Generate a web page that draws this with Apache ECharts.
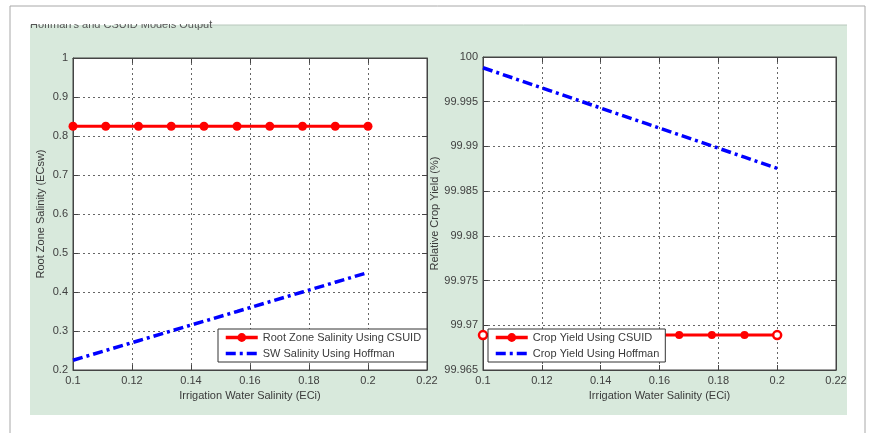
<!DOCTYPE html>
<html>
<head>
<meta charset="utf-8">
<script src="https://cdn.jsdelivr.net/npm/echarts@6/dist/echarts.min.js"></script>
<style>
html, body { margin: 0; background: #fff; }
#c { width: 869px; height: 433px; }
</style>
</head>
<body>
<div id="c"></div>
<script>
// irrigation water salinity (ECi), shared by both plots
var xValues = [0.1, 0.1111, 0.1222, 0.1333, 0.1444, 0.1556, 0.1667, 0.1778, 0.1889, 0.2];
// left plot
var rootZoneCsuid = [0.825, 0.825, 0.825, 0.825, 0.825, 0.825, 0.825, 0.825, 0.825, 0.825];
var swHoffman = [0.225, 0.25, 0.275, 0.3, 0.325, 0.35, 0.375, 0.4, 0.425, 0.45];
// right plot
var yieldCsuid = [99.9689, 99.9689, 99.9689, 99.9689, 99.9689, 99.9689, 99.9689, 99.9689, 99.9689, 99.9689];
var yieldHoffman = [99.9988, 99.99755, 99.9963, 99.99505, 99.9938, 99.99255, 99.9913, 99.99005, 99.9888, 99.98755];
// tick labels
var xTicks = [0.1, 0.12, 0.14, 0.16, 0.18, 0.2, 0.22];
var leftTicks = [0.2, 0.3, 0.4, 0.5, 0.6, 0.7, 0.8, 0.9, 1];
var rightTicks = [99.965, 99.97, 99.975, 99.98, 99.985, 99.99, 99.995, 100];

var chart = echarts.init(document.getElementById('c'));
var font = 'Liberation Sans, Arial, sans-serif';
var dashDot = [10, 4, 3, 4];

function pairs(ys) {
    return xValues.map(function (x, i) { return [x, ys[i]]; });
}
// first and last markers of the right red line look hollow in the original
function hollowEnds(ys) {
    return pairs(ys).map(function (p, i) {
        if (i === 0 || i === ys.length - 1) {
            return { value: p, itemStyle: { color: '#fff', borderColor: '#ff0000', borderWidth: 2.5 } };
        }
        return p;
    });
}
function fmt(d) {
    return function (v) { return String(+(+v).toFixed(d)); };
}

function xAxisFor(grid, top) {
    return {
        type: 'value', gridIndex: grid, position: top ? 'top' : 'bottom',
        min: xTicks[0], max: xTicks[xTicks.length - 1], interval: 0.02,
        name: top ? '' : 'Irrigation Water Salinity (ECi)',
        nameLocation: 'middle', nameGap: 19,
        nameTextStyle: { color: '#3a3a3a', fontSize: 11, fontFamily: font },
        axisLine: { show: true, lineStyle: { color: '#444' } },
        axisTick: { show: true, inside: true, length: 5, lineStyle: { color: '#444' } },
        axisLabel: { show: !top, color: '#404040', fontSize: 11, fontFamily: font, margin: 5, formatter: fmt(2) },
        splitLine: { show: !top, lineStyle: { color: '#666', type: [2, 3], width: 1 } }
    };
}
function yAxisFor(grid, ticks, step, dec, name, gap, right) {
    return {
        type: 'value', gridIndex: grid, position: right ? 'right' : 'left',
        min: ticks[0], max: ticks[ticks.length - 1], interval: step,
        name: right ? '' : name,
        nameLocation: 'middle', nameGap: gap,
        nameTextStyle: { color: '#3a3a3a', fontSize: 11, fontFamily: font },
        axisLine: { show: true, lineStyle: { color: '#444' } },
        axisTick: { show: true, inside: true, length: 5, lineStyle: { color: '#444' } },
        axisLabel: { show: !right, color: '#404040', fontSize: 11, fontFamily: font, margin: 5, formatter: fmt(dec) },
        splitLine: { show: !right, lineStyle: { color: '#666', type: [2, 3], width: 1 } }
    };
}

var redLine = { color: '#ff0000', width: 3 };
var blueLine = { color: '#0000ff', width: 3.5, type: dashDot };

function legendFor(left, redName, blueName) {
    return {
        left: left, top: 329, orient: 'vertical',
        data: [
            { name: redName, lineStyle: { width: 3.5, color: '#ff0000' } },
            { name: blueName, itemStyle: { opacity: 0 }, lineStyle: { type: dashDot, width: 3.5, color: '#0000ff' } }
        ],
        backgroundColor: '#fff', borderColor: '#333', borderWidth: 1,
        padding: [3, 6, 3, 6], itemGap: 5, itemWidth: 32, itemHeight: 11,
        textStyle: { color: '#3a3a3a', fontSize: 11, fontFamily: font },
        selectedMode: false
    };
}

var option = {
    backgroundColor: '#fff',
    animation: false,
    graphic: [
        { type: 'rect', z: -10, shape: { x: 10, y: 6, width: 855, height: 440 },
          style: { fill: '#fff', stroke: '#a8a8a8', lineWidth: 1 } },
        { type: 'rect', z: -9, shape: { x: 30, y: 25, width: 817, height: 390 },
          style: { fill: '#d8e9dc' } },
        { type: 'line', z: -8, shape: { x1: 200, y1: 25, x2: 847, y2: 25 },
          style: { stroke: '#b8c8bc', lineWidth: 1 } },
        { type: 'text', z: -7, x: 30, y: 25,
          style: { text: "Hoffman's and CSUID Models Output", fill: '#555', font: '11px ' + font, textVerticalAlign: 'middle' } },
        { type: 'rect', z: -6, shape: { x: 29, y: 7, width: 180, height: 17 },
          style: { fill: '#fff' } }
    ],
    grid: [
        { left: 73, top: 58, width: 354, height: 312, show: true, backgroundColor: '#fff', borderColor: '#444', borderWidth: 1 },
        { left: 483, top: 57, width: 353, height: 313, show: true, backgroundColor: '#fff', borderColor: '#444', borderWidth: 1 }
    ],
    xAxis: [xAxisFor(0, false), xAxisFor(1, false), xAxisFor(0, true), xAxisFor(1, true)],
    yAxis: [
        yAxisFor(0, leftTicks, 0.1, 1, 'Root Zone Salinity (ECsw)', 27, false),
        yAxisFor(1, rightTicks, 0.005, 3, 'Relative Crop Yield (%)', 41, false),
        yAxisFor(0, leftTicks, 0.1, 1, '', 0, true),
        yAxisFor(1, rightTicks, 0.005, 3, '', 0, true)
    ],
    legend: [
        legendFor(218, 'Root Zone Salinity Using CSUID', 'SW Salinity Using Hoffman'),
        legendFor(488, 'Crop Yield Using CSUID', 'Crop Yield Using Hoffman')
    ],
    series: [
        { name: 'Root Zone Salinity Using CSUID', type: 'line', xAxisIndex: 0, yAxisIndex: 0,
          data: pairs(rootZoneCsuid), symbol: 'circle', symbolSize: 9,
          itemStyle: { color: '#ff0000' }, lineStyle: redLine, z: 3 },
        { name: 'SW Salinity Using Hoffman', type: 'line', xAxisIndex: 0, yAxisIndex: 0,
          data: pairs(swHoffman), symbol: 'none',
          itemStyle: { color: '#0000ff' }, lineStyle: blueLine, z: 2 },
        { name: 'Crop Yield Using CSUID', type: 'line', xAxisIndex: 1, yAxisIndex: 1,
          data: hollowEnds(yieldCsuid), symbol: 'circle', symbolSize: 8,
          itemStyle: { color: '#ff0000' }, lineStyle: redLine, z: 3 },
        { name: 'Crop Yield Using Hoffman', type: 'line', xAxisIndex: 1, yAxisIndex: 1,
          data: pairs(yieldHoffman), symbol: 'none',
          itemStyle: { color: '#0000ff' }, lineStyle: blueLine, z: 2 }
    ]
};

chart.setOption(option);
</script>
</body>
</html>
